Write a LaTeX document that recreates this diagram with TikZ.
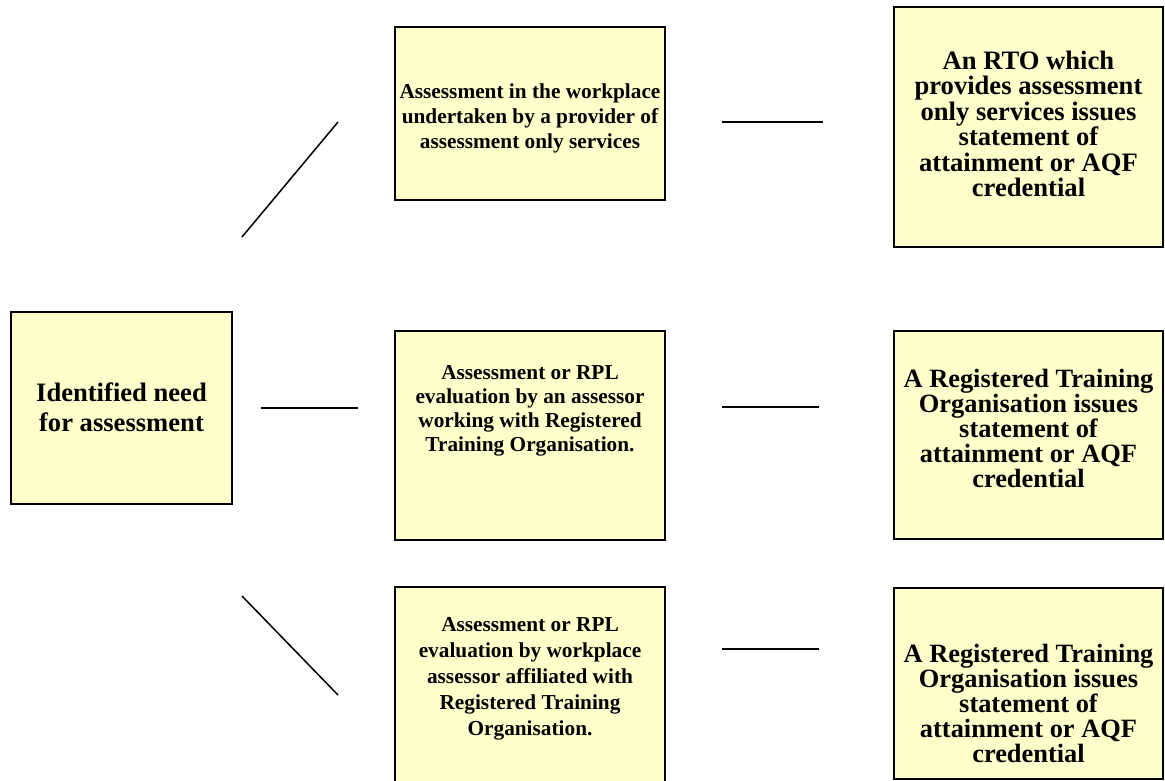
\documentclass[tikz,border=0pt]{standalone}
\usepackage{fontspec}
\setmainfont{Liberation Serif}
\definecolor{boxyellow}{RGB}{255,255,204}
\begin{document}
\begin{tikzpicture}[x=1pt,y=-1pt,
  box/.style={draw=black, line width=1.6pt, fill=boxyellow, inner sep=0pt},
  txt/.style={font=\bfseries, align=center, inner sep=0pt},
  big/.style={txt, font=\fontsize{26.6}{25.5}\selectfont\bfseries},
  small/.style={txt, font=\fontsize{21.3}{25}\selectfont\bfseries},
  link/.style={line width=1.5pt}]
\useasboundingbox (0,0) rectangle (1165,780);
\clip (0,0) rectangle (1165,780);

% boxes
\node[box, minimum width=221, minimum height=192] (need) at (121.5,408) {};
\node[box, minimum width=270, minimum height=173] (workplace) at (530,113.5) {};
\node[box, minimum width=269, minimum height=240] (rtoonly) at (1028.5,127) {};
\node[box, minimum width=270, minimum height=209] (assessor) at (530,435.5) {};
\node[box, minimum width=269, minimum height=208] (rtomid) at (1028.5,435) {};
\node[box, minimum width=270, minimum height=213] (affiliated) at (530,693.5) {};
\node[box, minimum width=269, minimum height=191] (rtobot) at (1028.5,683.5) {};

% box texts
\node[txt, font=\fontsize{26.6}{30}\selectfont\bfseries] (needtxt) at (121.5,407)
  {Identified need\\for assessment};
\node[small] (workplacetxt) at (530,118)
  {Assessment in the workplace\\undertaken by a provider of\\assessment only services};
\node[big] (rtoonlytxt) at (1028.5,124)
  {An RTO which\\provides assessment\\only services issues\\statement of\\attainment or AQF\\credential};
\node[small, font=\fontsize{21.3}{23.8}\selectfont\bfseries] (assessortxt) at (530,411)
  {Assessment or RPL\\evaluation by an assessor\\working with Registered\\Training Organisation.};
\node[big, font=\fontsize{26.4}{25}\selectfont\bfseries] (rtomidtxt) at (1028.5,428)
  {A Registered Training\\Organisation issues\\statement of\\attainment or AQF\\credential};
\node[small, font=\fontsize{21.3}{26}\selectfont\bfseries] (affiliatedtxt) at (530,678.5)
  {Assessment or RPL\\evaluation by workplace\\assessor affiliated with\\Registered Training\\Organisation.};
\node[big, font=\fontsize{26.4}{25}\selectfont\bfseries] (rtobottxt) at (1028.5,703)
  {A Registered Training\\Organisation issues\\statement of\\attainment or AQF\\credential};

% free-standing connector ends
\coordinate (d1a) at (242,237);  \coordinate (d1b) at (338,122);
\coordinate (d2a) at (261,408);  \coordinate (d2b) at (358,408);
\coordinate (d3a) at (242,596);  \coordinate (d3b) at (338,695);
\coordinate (r1a) at (722,122);  \coordinate (r1b) at (823,122);
\coordinate (r2a) at (722,407);  \coordinate (r2b) at (819,407);
\coordinate (r3a) at (722,649);  \coordinate (r3b) at (819,649);

% connectors
\draw[link] (d1a) -- (d1b);
\draw[link] (d2a) -- (d2b);
\draw[link] (d3a) -- (d3b);
\draw[link] (r1a) -- (r1b);
\draw[link] (r2a) -- (r2b);
\draw[link] (r3a) -- (r3b);
\end{tikzpicture}
\end{document}
